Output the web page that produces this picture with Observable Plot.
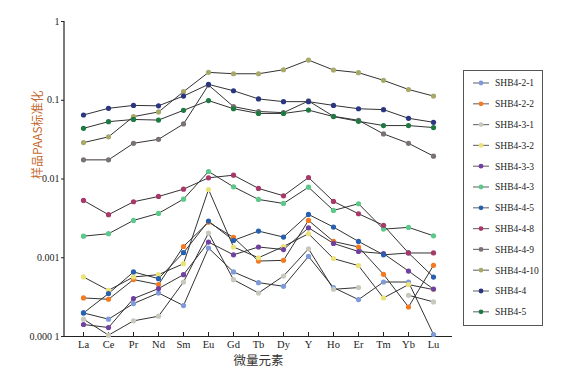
<!DOCTYPE html>
<html><head><meta charset="utf-8">
<script src="https://cdn.jsdelivr.net/npm/d3@7"></script>
<script src="https://cdn.jsdelivr.net/npm/@observablehq/plot@0.6"></script>
<style>
body{margin:0;background:#fff}
#wrap{position:relative;width:569px;height:375px;overflow:hidden}
#legend{position:absolute;left:463px;top:70px;width:80px;height:256px;border:1px solid #555;box-sizing:border-box}
</style>
</head><body><div id="wrap"></div>
<script>
const elements = ["La","Ce","Pr","Nd","Sm","Eu","Gd","Tb","Dy","Y","Ho","Er","Tm","Yb","Lu"];
const seriesNames = ["SHB4-2-1","SHB4-2-2","SHB4-3-1","SHB4-3-2","SHB4-3-3","SHB4-4-3","SHB4-4-5","SHB4-4-8","SHB4-4-9","SHB4-4-10","SHB4-4","SHB4-5"];
const seriesColors = ["#7e9ad8","#f47a20","#c8c8bc","#ece27a","#7040a0","#5cc88a","#2860b0","#a8386a","#7a7078","#a8a86a","#2a3680","#1e7a40"];
const yTickValues = [1e-4, 1e-3, 1e-2, 1e-1, 1];
const yTickLabels = ["0.000 1", "0.001", "0.01", "0.1", "1"];
const xTitle = "微量元素";
const yTitle = "样品PAAS标准化";

const SHB4_2_1  = [0.000199,0.000166,0.000262,0.000357,0.000247,0.00133,0.00066,0.000483,0.000434,0.00104,0.000418,0.000294,0.000492,0.000492,0.000106];
const SHB4_2_2  = [0.000309,0.000297,0.000528,0.000456,0.00139,0.00283,0.00181,0.000908,0.000927,0.00298,0.00161,0.00137,0.000616,0.000237,0.000801];
const SHB4_3_1  = [0.000166,0.000104,0.000158,0.000181,0.000492,0.00206,0.000527,0.000357,0.000586,0.0013,0.000398,0.000418,null,0.000334,0.000275];
const SHB4_3_2  = [0.00057,0.000386,0.00057,0.00061,0.00084,0.00736,0.00137,0.001,0.00139,0.00202,0.000975,0.000794,0.000309,0.000456,0.000394];
const SHB4_3_3  = [0.000142,0.00013,0.000303,0.000406,0.00061,0.00158,0.00109,0.00137,0.00127,0.0024,0.00152,0.0012,0.00113,0.000678,0.0004];
const SHB4_4_3  = [0.00188,0.00202,0.00298,0.00366,0.00555,0.01245,0.00796,0.0055,0.00489,0.00787,0.00399,0.00485,0.00231,0.00243,0.0019];
const SHB4_4_5  = [0.000199,0.000351,0.00066,0.000543,0.00116,0.00292,0.00166,0.00218,0.00183,0.00355,0.00245,0.00161,0.00109,0.00115,0.000569];
const SHB4_4_8  = [0.00534,0.00352,0.00514,0.006,0.00743,0.01036,0.01117,0.00759,0.00612,0.01045,0.00519,0.00362,0.00258,0.00115,0.00115];
const SHB4_4_9  = [0.0175,0.0175,0.0284,0.0319,0.05,0.156,0.083,0.072,0.0696,0.098,0.0625,0.0556,0.0374,0.0284,0.0195];
const SHB4_4_10 = [0.029,0.0343,0.062,0.071,0.1285,0.226,0.217,0.217,0.244,0.324,0.242,0.224,0.179,0.137,0.113];
const SHB4_4    = [0.065,0.079,0.086,0.085,0.113,0.159,0.132,0.104,0.096,0.096,0.086,0.078,0.076,0.059,0.0525];
const SHB4_5    = [0.044,0.0535,0.057,0.056,0.0745,0.099,0.078,0.068,0.068,0.075,0.062,0.054,0.0477,0.0477,0.045];

const seriesValues = [SHB4_2_1,SHB4_2_2,SHB4_3_1,SHB4_3_2,SHB4_3_3,SHB4_4_3,SHB4_4_5,SHB4_4_8,SHB4_4_9,SHB4_4_10,SHB4_4,SHB4_5];
const data = [];
seriesNames.forEach((s, i) => elements.forEach((e, j) => data.push({series: s, element: e, value: seriesValues[i][j]})));

const serif = "'Liberation Serif','Times New Roman',serif";
const cjk = "'Noto Sans CJK SC',sans-serif";
const mL = 64, mT = 21, mB = 39, mR = 117, W = 569, H = 375;

const plot = Plot.plot({
  width: W, height: H,
  marginLeft: mL, marginTop: mT, marginBottom: mB, marginRight: mR,
  style: {fontFamily: serif, fontSize: "10.5px", color: "#222", background: "#fff"},
  x: {type: "point", domain: elements, padding: 0.5, label: null},
  y: {type: "log", domain: [1e-4, 1], label: null},
  color: {domain: seriesNames, range: seriesColors},
  marks: [
    Plot.ruleY([1e-4], {stroke: "#222", strokeWidth: 1.2}),
    Plot.axisX({tickSize: -4, tickPadding: 8, fontSize: 10.5}),
    Plot.axisY({ticks: yTickValues, tickFormat: d => yTickLabels[yTickValues.indexOf(d)], tickSize: 3, tickPadding: 2, fontSize: 10}),
    Plot.line(data, {x: "element", y: "value", z: "series", stroke: "#333", strokeWidth: 1}),
    Plot.dot(data, {x: "element", y: "value", fill: "series", r: 2.6}),
    Plot.text([yTitle], {frameAnchor: "left", text: d => d, rotate: -90, dx: -26, fill: "#c46a32", fontFamily: cjk, fontSize: 12}),
    Plot.text([xTitle], {frameAnchor: "bottom", lineAnchor: "middle", text: d => d, dy: 24, fill: "#333", fontFamily: cjk, fontSize: 12.5})
  ]
});
const wrap = document.getElementById("wrap");
wrap.appendChild(plot);

// y axis line
d3.select(plot).append("line")
  .attr("x1", mL).attr("x2", mL).attr("y1", mT).attr("y2", H - mB)
  .attr("stroke", "#222").attr("stroke-width", 1.2);

// legend
const leg = d3.select(wrap).append("div").attr("id", "legend");
const lsvg = leg.append("svg").attr("width", 78).attr("height", 254);
seriesNames.forEach((s, i) => {
  const g = lsvg.append("g").attr("transform", `translate(0,${12 + i * 20.8})`);
  g.append("line").attr("x1", 9).attr("x2", 25).attr("stroke", "#777").attr("stroke-width", 1.2);
  g.append("circle").attr("cx", 17).attr("r", 2.4).attr("fill", seriesColors[i]);
  g.append("text").attr("x", 31).attr("dy", "0.35em").attr("font-family", serif).attr("font-size", 9.5).attr("fill", "#222").text(s);
});
</script>
</body></html>
